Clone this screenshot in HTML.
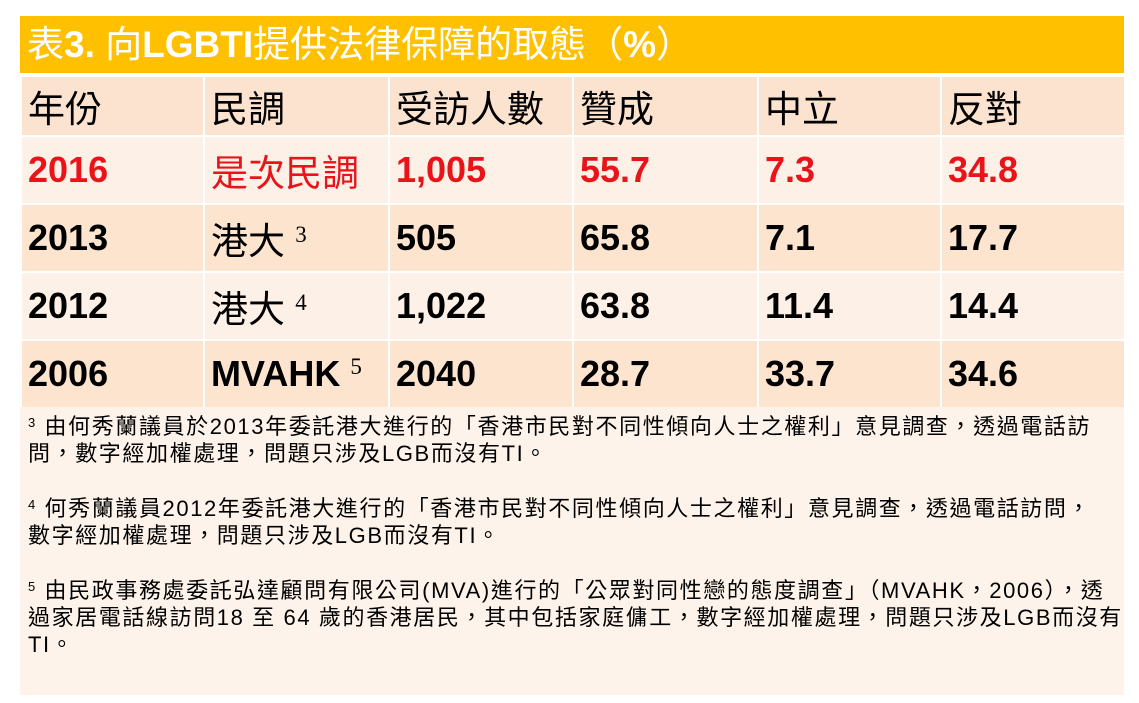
<!DOCTYPE html>
<html><head><meta charset="utf-8"><style>
body{margin:0;width:1139px;height:703px;background:#fff;position:relative;overflow:hidden;font-family:"Liberation Sans","Noto Sans CJK TC",sans-serif}
.title{position:absolute;left:20px;top:16px;width:1104px;height:57px;background:#FFC000;color:#fff;font-size:37px;line-height:57px;padding-left:7px;box-sizing:border-box;white-space:nowrap}
table{position:absolute;left:20px;top:75px;border-collapse:collapse;width:1104px;table-layout:fixed}
td{border:2px solid #fff;height:68px;padding:0 0 0 6px;font-size:36px;color:#000;vertical-align:middle;box-sizing:border-box;white-space:nowrap}
tr.h td{background:#FBE3CF;height:60px;font-size:37px}
tr.a td{background:#FDF0E6;font-weight:bold}
tr.b td{background:#FCE4CE;font-weight:bold}
tr.r td{color:#E8141A}
.cjk{font-weight:normal !important;font-size:37px !important}
sup{font-family:"Liberation Serif",serif;font-weight:normal;font-size:23px;vertical-align:12px}
.notes{position:absolute;left:20px;top:407px;width:1104px;height:288px;background:#FEF3EA;font-size:22px;line-height:27px;color:#000;padding:2px 0 0 8px;box-sizing:border-box;white-space:nowrap;letter-spacing:1.6px}
.notes p{margin:0 0 24px}
.notes sup{font-family:"Liberation Sans",sans-serif;font-size:13px;vertical-align:7px}
</style></head><body>
<div class="title">表<b>3.</b> 向<b>LGBTI</b>提供法律保障的取態（<b>%</b>）</div>
<table>
<colgroup><col style="width:183px"><col style="width:185px"><col style="width:184px"><col style="width:185px"><col style="width:183px"><col style="width:184px"></colgroup>
<tr class="h"><td>年份</td><td>民調</td><td>受訪人數</td><td>贊成</td><td>中立</td><td>反對</td></tr>
<tr class="a r"><td>2016</td><td class="cjk">是次民調</td><td>1,005</td><td>55.7</td><td>7.3</td><td>34.8</td></tr>
<tr class="b" style="height:67px"><td style="height:67px">2013</td><td class="cjk">港大 <sup>3</sup></td><td>505</td><td>65.8</td><td>7.1</td><td>17.7</td></tr>
<tr class="a"><td>2012</td><td class="cjk">港大 <sup>4</sup></td><td>1,022</td><td>63.8</td><td>11.4</td><td>14.4</td></tr>
<tr class="b" style="height:67px"><td style="height:67px">2006</td><td>MVAHK <sup>5</sup></td><td>2040</td><td>28.7</td><td>33.7</td><td>34.6</td></tr>
</table>
<div class="notes">
<p><sup>3</sup> 由何秀蘭議員於2013年委託港大進行的「香港市民對不同性傾向人士之權利」意見調查，透過電話訪<br>問，數字經加權處理，問題只涉及LGB而沒有TI。</p>
<p><sup>4</sup> 何秀蘭議員2012年委託港大進行的「香港市民對不同性傾向人士之權利」意見調查，透過電話訪問，<br>數字經加權處理，問題只涉及LGB而沒有TI。</p>
<p><sup>5</sup> 由民政事務處委託弘達顧問有限公司(MVA)進行的「公眾對同性戀的態度調查」（MVAHK，2006），透<br>過家居電話線訪問18 至 64 歲的香港居民，其中包括家庭傭工，數字經加權處理，問題只涉及LGB而沒有<br>TI。</p>
</div>
</body></html>
